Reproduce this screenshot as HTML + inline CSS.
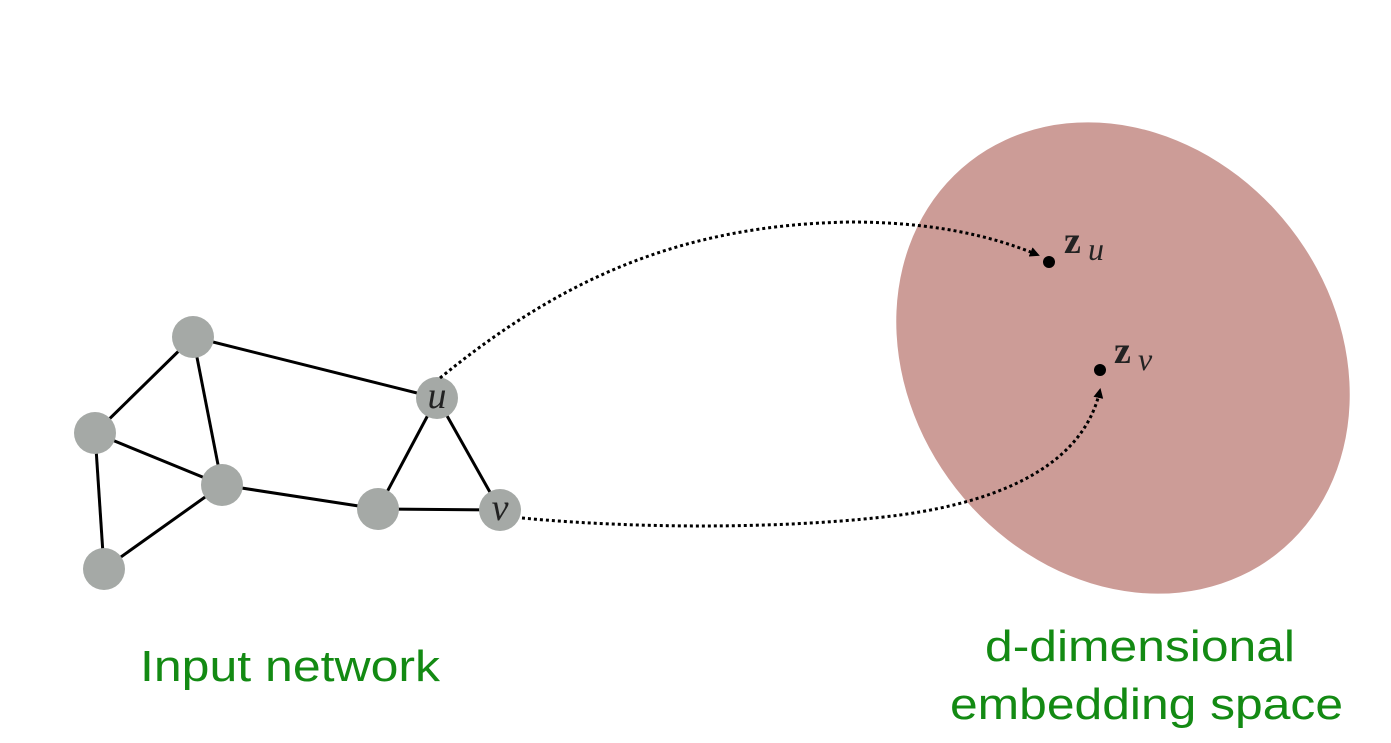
<!DOCTYPE html>
<html><head><meta charset="utf-8"><style>html,body{margin:0;padding:0;background:#fff;}svg{display:block}</style></head>
<body>
<svg width="1391" height="743" viewBox="0 0 1391 743" xmlns="http://www.w3.org/2000/svg">
<defs>
<marker id="ah" markerWidth="10" markerHeight="10" refX="8" refY="5" orient="auto" markerUnits="userSpaceOnUse">
<path d="M0,0 L10,5 L0,10 z" fill="#000"/>
</marker>
</defs>
<ellipse cx="1123" cy="358" rx="249" ry="212" transform="rotate(52 1123 358)" fill="#cc9c97"/>
<g stroke="#000" stroke-width="3">
<line x1="193" y1="337" x2="437" y2="398"/>
<line x1="193" y1="337" x2="95" y2="433"/>
<line x1="193" y1="337" x2="222" y2="485"/>
<line x1="95" y1="433" x2="222" y2="485"/>
<line x1="95" y1="433" x2="104" y2="569"/>
<line x1="104" y1="569" x2="222" y2="485"/>
<line x1="222" y1="485" x2="378" y2="509"/>
<line x1="378" y1="509" x2="500" y2="510"/>
<line x1="378" y1="509" x2="437" y2="398"/>
<line x1="437" y1="398" x2="500" y2="510"/>
</g>
<g fill="#a5a9a6">
<circle cx="193" cy="337" r="21"/>
<circle cx="95" cy="433" r="21"/>
<circle cx="222" cy="485" r="21"/>
<circle cx="104" cy="569" r="21"/>
<circle cx="378" cy="509" r="21"/>
<circle cx="437" cy="398" r="21"/>
<circle cx="500" cy="510" r="21"/>
</g>
<text x="437" y="408" font-family="Liberation Serif, serif" font-style="italic" font-size="38" text-anchor="middle" fill="#222">u</text>
<text x="500" y="520" font-family="Liberation Serif, serif" font-style="italic" font-size="38" text-anchor="middle" fill="#222">v</text>
<g fill="none" stroke="#000" stroke-width="3" stroke-dasharray="3,3">
<path d="M440,378 C560,280 680,225 850,222 C930,222 990,235 1038,255" marker-end="url(#ah)"/>
<path d="M522,518 C650,530 800,528 900,515 C1010,500 1085,460 1100,390" marker-end="url(#ah)"/>
</g>
<circle cx="1049" cy="262" r="6" fill="#000"/>
<circle cx="1100" cy="370" r="6" fill="#000"/>
<text x="1064" y="253" font-family="Liberation Serif, serif" font-weight="bold" font-size="38" fill="#222">z</text>
<text x="1088" y="260" font-family="Liberation Serif, serif" font-style="italic" font-size="32" fill="#222">u</text>
<text x="1114" y="363" font-family="Liberation Serif, serif" font-weight="bold" font-size="38" fill="#222">z</text>
<text x="1138" y="370" font-family="Liberation Serif, serif" font-style="italic" font-size="32" fill="#222">v</text>
<g font-family="Liberation Sans, sans-serif" font-size="44" fill="#138a13">
<text x="140" y="681" textLength="300" lengthAdjust="spacingAndGlyphs">Input network</text>
<text x="985" y="661" textLength="310" lengthAdjust="spacingAndGlyphs">d-dimensional</text>
<text x="950" y="719" textLength="393" lengthAdjust="spacingAndGlyphs">embedding space</text>
</g>
</svg>
</body></html>
